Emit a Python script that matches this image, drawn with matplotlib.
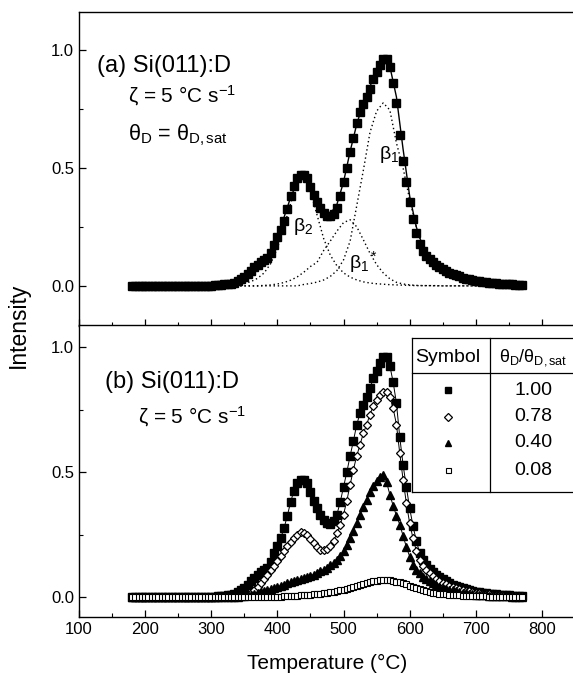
import numpy as np
import matplotlib
matplotlib.use('Agg')
import matplotlib.pyplot as plt
from matplotlib.ticker import MultipleLocator

plt.rcParams['font.family'] = ['Liberation Sans', 'DejaVu Sans']
plt.rcParams['mathtext.fontset'] = 'custom'
plt.rcParams['mathtext.rm'] = 'Liberation Sans'
plt.rcParams['mathtext.it'] = 'Liberation Sans:italic'
plt.rcParams['mathtext.default'] = 'regular'

# temperature grid of the measured points (every 5 °C)
temp = np.arange(180, 775, 5)

# theta/theta_sat = 1.00 (also panel a)
i_100 = [0, 0, 0, 0, 0, 0, 0, 0, 0, 0,
         0, 0, 0, 0, 0, 0, 0, 0, 0, 0,
         0, 0, 0, 0, 0, 0.002, 0.003, 0.004, 0.006, 0.008,
         0.010, 0.014, 0.020, 0.028, 0.038, 0.050, 0.063, 0.078, 0.090, 0.100,
         0.108, 0.118, 0.140, 0.175, 0.205, 0.235, 0.275, 0.325, 0.380, 0.425,
         0.455, 0.470, 0.470, 0.455, 0.420, 0.385, 0.355, 0.330, 0.310, 0.298,
         0.294, 0.305, 0.330, 0.380, 0.440, 0.500, 0.565, 0.625, 0.690, 0.735,
         0.770, 0.800, 0.835, 0.875, 0.905, 0.935, 0.960, 0.962, 0.925, 0.860,
         0.775, 0.640, 0.530, 0.440, 0.355, 0.285, 0.225, 0.178, 0.148, 0.128,
         0.112, 0.100, 0.089, 0.080, 0.071, 0.063, 0.056, 0.050, 0.045, 0.040,
         0.035, 0.031, 0.028, 0.025, 0.022, 0.020, 0.018, 0.016, 0.014, 0.012,
         0.011, 0.010, 0.009, 0.008, 0.007, 0.006, 0.005, 0.005, 0.004]

i_078 = [0, 0, 0, 0, 0, 0, 0, 0, 0, 0,
         0, 0, 0, 0, 0, 0, 0, 0, 0, 0,
         0, 0, 0, 0, 0, 0, 0, 0, 0, 0,
         0, 0, 0, 0.003, 0.006, 0.010, 0.018, 0.028, 0.042, 0.058,
         0.073, 0.090, 0.108, 0.125, 0.145, 0.165, 0.185, 0.205, 0.222, 0.238,
         0.250, 0.260, 0.258, 0.247, 0.232, 0.215, 0.200, 0.190, 0.187, 0.192,
         0.205, 0.225, 0.255, 0.290, 0.330, 0.385, 0.450, 0.510, 0.565, 0.610,
         0.655, 0.690, 0.730, 0.765, 0.790, 0.810, 0.820, 0.820, 0.800, 0.755,
         0.690, 0.575, 0.470, 0.375, 0.295, 0.235, 0.185, 0.150, 0.125, 0.107,
         0.095, 0.083, 0.073, 0.065, 0.058, 0.052, 0.046, 0.041, 0.037, 0.033,
         0.029, 0.026, 0.023, 0.020, 0.018, 0.016, 0.014, 0.012, 0.011, 0.010,
         0.009, 0.008, 0.007, 0.006, 0.005, 0.005, 0.004, 0.004, 0.003]

i_040 = [0, 0, 0, 0, 0, 0, 0, 0, 0, 0,
         0, 0, 0, 0, 0, 0, 0, 0, 0, 0,
         0, 0, 0, 0, 0, 0, 0, 0, 0, 0,
         0, 0, 0.002, 0.003, 0.005, 0.007, 0.010, 0.013, 0.017, 0.021,
         0.025, 0.029, 0.033, 0.037, 0.041, 0.045, 0.050, 0.055, 0.060, 0.064,
         0.068, 0.072, 0.076, 0.080, 0.085, 0.090, 0.096, 0.103, 0.110, 0.118,
         0.127, 0.137, 0.150, 0.165, 0.185, 0.210, 0.235, 0.265, 0.295, 0.330,
         0.360, 0.390, 0.420, 0.445, 0.465, 0.482, 0.490, 0.460, 0.410, 0.365,
         0.325, 0.290, 0.245, 0.200, 0.162, 0.130, 0.110, 0.095, 0.082, 0.072,
         0.063, 0.055, 0.048, 0.042, 0.037, 0.033, 0.030, 0.027, 0.024, 0.021,
         0.018, 0.016, 0.014, 0.012, 0.010, 0.009, 0.008, 0.007, 0.006, 0.005,
         0.005, 0.004, 0.004, 0.003, 0.003, 0.002, 0.002, 0.002, 0.002]

i_008 = [0, 0, 0, 0, 0, 0, 0, 0, 0, 0,
         0, 0, 0, 0, 0, 0, 0, 0, 0, 0,
         0, 0, 0, 0, 0, 0, 0, 0, 0, 0,
         0, 0, 0, 0, 0, 0, 0, 0, 0, 0,
         0, 0, 0, 0.001, 0.002, 0.002, 0.003, 0.003, 0.004, 0.005,
         0.006, 0.007, 0.008, 0.009, 0.010, 0.011, 0.012, 0.013, 0.015, 0.017,
         0.019, 0.021, 0.024, 0.027, 0.030, 0.034, 0.038, 0.042, 0.046, 0.050,
         0.054, 0.057, 0.060, 0.063, 0.065, 0.067, 0.068, 0.068, 0.067, 0.065,
         0.062, 0.059, 0.055, 0.051, 0.046, 0.041, 0.036, 0.032, 0.028, 0.024,
         0.021, 0.018, 0.016, 0.014, 0.012, 0.011, 0.010, 0.009, 0.008, 0.007,
         0.006, 0.005, 0.005, 0.004, 0.004, 0.003, 0.003, 0.003, 0.002, 0.002,
         0.002, 0.002, 0.001, 0.001, 0.001, 0.001, 0.001, 0.001, 0.001]

# fit and its components in panel a (every 10 °C)
fit_t = np.arange(180, 780, 10)
fit_a = [0, 0, 0, 0, 0, 0, 0, 0, 0, 0,
         0, 0, 0, 0.002, 0.005, 0.010, 0.018, 0.030, 0.048, 0.072,
         0.100, 0.150, 0.215, 0.290, 0.375, 0.440, 0.465, 0.430, 0.360, 0.315,
         0.305, 0.345, 0.440, 0.570, 0.685, 0.775, 0.845, 0.910, 0.952, 0.930,
         0.800, 0.580, 0.380, 0.250, 0.165, 0.115, 0.085, 0.065, 0.050, 0.040,
         0.032, 0.025, 0.020, 0.016, 0.013, 0.010, 0.008, 0.006, 0.005, 0.004]
beta2 = [0, 0, 0, 0, 0, 0, 0, 0, 0, 0,
         0, 0, 0, 0, 0, 0, 0.005, 0.010, 0.018, 0.032,
         0.055, 0.095, 0.160, 0.250, 0.350, 0.430, 0.460, 0.400, 0.300, 0.200,
         0.130, 0.085, 0.055, 0.037, 0.025, 0.017, 0.012, 0.009, 0.007, 0.005,
         0.004, 0.003, 0.002, 0.001, 0.001, 0.001, 0.001, 0, 0, 0,
         0, 0, 0, 0, 0, 0, 0, 0, 0, 0]
beta1s = [0, 0, 0, 0, 0, 0, 0, 0, 0, 0,
          0, 0, 0, 0, 0, 0, 0, 0, 0, 0,
          0.002, 0.004, 0.008, 0.014, 0.024, 0.038, 0.058, 0.082, 0.100, 0.150,
          0.190, 0.232, 0.268, 0.280, 0.250, 0.195, 0.138, 0.090, 0.055, 0.030,
          0.015, 0.008, 0.004, 0.002, 0.001, 0.001, 0, 0, 0, 0,
          0, 0, 0, 0, 0, 0, 0, 0, 0, 0]
beta1 = [0, 0, 0, 0, 0, 0, 0, 0, 0, 0,
         0, 0, 0, 0, 0, 0, 0, 0, 0, 0,
         0, 0, 0, 0, 0, 0, 0.006, 0.010, 0.016, 0.025,
         0.040, 0.065, 0.110, 0.190, 0.340, 0.490, 0.650, 0.740, 0.775, 0.745,
         0.605, 0.500, 0.365, 0.250, 0.155, 0.100, 0.070, 0.050, 0.035, 0.025,
         0.018, 0.013, 0.010, 0.008, 0.006, 0.005, 0.004, 0.003, 0.003, 0.002]

coverage = ['1.00', '0.78', '0.40', '0.08']

fig = plt.figure(figsize=(5.73, 6.75), dpi=100)
ax_a = fig.add_axes([79 / 573, 1 - 326 / 675, 496 / 573, 314 / 675])
ax_b = fig.add_axes([79 / 573, 1 - 617 / 675, 496 / 573, 292 / 675])

for ax in (ax_a, ax_b):
    ax.set_xlim(100, 850)
    ax.xaxis.set_major_locator(MultipleLocator(100))
    ax.xaxis.set_minor_locator(MultipleLocator(50))
    ax.yaxis.set_major_locator(MultipleLocator(0.5))
    ax.yaxis.set_minor_locator(MultipleLocator(0.25))
    ax.tick_params(which='both', direction='in', top=False, right=False, labelsize=12)
    ax.tick_params(which='major', length=5, width=0.9)
    ax.tick_params(which='minor', length=3, width=0.8)
    ax.yaxis.set_major_formatter(matplotlib.ticker.FormatStrFormatter('%.1f'))
    for s in ax.spines.values():
        s.set_linewidth(1.0)
    ax.spines['right'].set_visible(False)

# panel (a)
ax_a.set_ylim(-0.17, 1.16)
ax_a.tick_params(axis='x', labelbottom=False)
dot = (0, (1, 2))
ax_a.plot(fit_t, beta2, color='black', lw=1.0, ls=dot)
ax_a.plot(fit_t, beta1s, color='black', lw=1.0, ls=dot)
ax_a.plot(fit_t, beta1, color='black', lw=1.0, ls=dot)
ax_a.plot(temp, i_100, ls='none', marker='s', ms=5.3, color='black')
ax_a.plot(fit_t, fit_a, color='black', lw=1.0)

ax_a.text(0.036, 0.809, '(a) Si(011):D', transform=ax_a.transAxes, fontsize=17, va='baseline')
ax_a.text(0.099, 0.713, 'ζ = 5 °C s$^{-1}$', transform=ax_a.transAxes, fontsize=15, va='baseline')
ax_a.text(0.099, 0.592, 'θ$_{D}$ = θ$_{D,sat}$', transform=ax_a.transAxes, fontsize=15.5, va='baseline')
ax_a.text(423, 0.25, 'β$_2$', fontsize=14, va='center')
ax_a.text(509, 0.10, 'β$_1$$^*$', fontsize=14, va='center')
ax_a.text(554, 0.555, 'β$_1$', fontsize=14, va='center')

# panel (b)
ax_b.set_ylim(-0.08, 1.088)
series = [(i_100, dict(marker='s', ms=5.3, mfc='black', mec='black')),
          (i_078, dict(marker='D', ms=4.2, mfc='white', mec='black', mew=0.9)),
          (i_040, dict(marker='^', ms=6.0, mfc='black', mec='black')),
          (i_008, dict(marker='s', ms=4.0, mfc='white', mec='black', mew=0.8))]
for vals, st in series:
    ax_b.plot(temp, vals, color='black', lw=0.7, zorder=2)
    ax_b.plot(temp, vals, ls='none', zorder=3, **st)

ax_b.text(0.052, 0.784, '(b) Si(011):D', transform=ax_b.transAxes, fontsize=17, va='baseline')
ax_b.text(0.119, 0.664, 'ζ = 5 °C s$^{-1}$', transform=ax_b.transAxes, fontsize=15, va='baseline')

# symbol table
tl, tm, tr = 0.671, 0.829, 1.0
tt, th, tb = 0.955, 0.836, 0.428
kw = dict(transform=ax_b.transAxes, color='black', lw=0.9, clip_on=False, zorder=5)
ax_b.fill([tl, tr, tr, tl], [tb, tb, tt, tt], color='white', transform=ax_b.transAxes, zorder=4, clip_on=False)
ax_b.plot([tl, tr], [tt, tt], **kw)
ax_b.plot([tl, tr], [th, th], **kw)
ax_b.plot([tl, tr], [tb, tb], **kw)
ax_b.plot([tl, tl], [tb, tt], **kw)
ax_b.plot([tm, tm], [tb, tt], **kw)
ax_b.text(0.744, 0.890, 'Symbol', transform=ax_b.transAxes, fontsize=14, ha='center', va='center', zorder=6)
ax_b.text(0.915, 0.890, 'θ$_{D}$/θ$_{D,sat}$', transform=ax_b.transAxes, fontsize=13, ha='center', va='center', zorder=6)
row_y = [0.777, 0.685, 0.596, 0.503]
legend_ms = [4.2, 3.8, 5.0, 3.6]
for (vals, st), lab, yy, m in zip(series, coverage, row_y, legend_ms):
    st = dict(st, ms=m)
    ax_b.plot([0.744], [yy], ls='none', transform=ax_b.transAxes, clip_on=False, zorder=6, **st)
    ax_b.text(0.954, yy, lab, transform=ax_b.transAxes, fontsize=14, ha='right', va='center', zorder=6)

fig.text(18 / 573, 1 - 325 / 675, 'Intensity', rotation=90, fontsize=16.5, ha='center', va='center')
fig.text(327 / 573, 1 - 663 / 675, 'Temperature (°C)', fontsize=15, ha='center', va='center')

fig.savefig('out.png', dpi=100)
